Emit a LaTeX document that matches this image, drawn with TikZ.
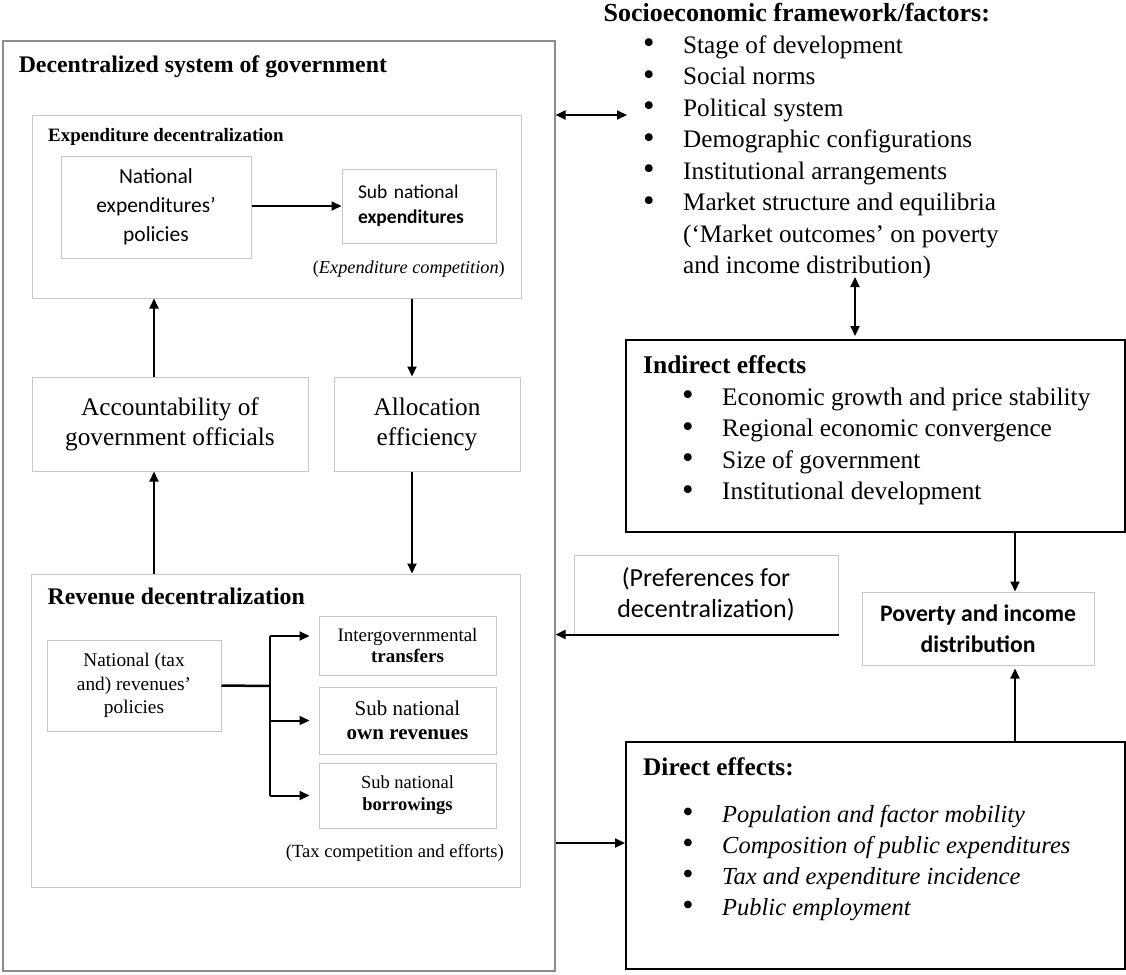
\documentclass[tikz,border=0pt]{standalone}
\usepackage{graphicx}
\usepackage{fontspec}
\setmainfont{Liberation Serif}
\setsansfont{Carlito}
\usetikzlibrary{arrows.meta,positioning}

\newcommand{\fs}[2]{\fontsize{#1}{#2}\selectfont}
\newcommand{\bul}{\makebox[40pt][l]{\raisebox{-0.5pt}{\scalebox{1.3}{\textbullet}}}}

\begin{document}
\begin{tikzpicture}[x=1pt,y=-1pt,
                    frame/.style={draw=black!45,line width=1.1pt},
                    grbox/.style={draw=black!22,line width=1pt,align=center},
                    effbox/.style={draw=black,line width=2pt},
                    txt/.style={inner sep=0pt,anchor=base west},
                    arr/.style={-{Triangle[length=10pt,width=9pt]},line width=2pt},
                    darr/.style={{Triangle[length=10pt,width=9pt]}-{Triangle[length=10pt,width=9pt]},line width=2pt}]
  \useasboundingbox (0,0) rectangle (1126,974);

  % decentralized system of government
  \node[frame,minimum width=552pt,minimum height=930pt] (govt) at (279,506) {};
  \node[txt,font=\fs{23.8}{28}\bfseries] (govtitle) at (18.6,72) {Decentralized system of government};

  \node[grbox,minimum width=489pt,minimum height=183pt] (expdec) at (276.5,206.5) {};
  \node[txt,font=\fs{18.9}{22}\bfseries] (exptitle) at (48,141) {Expenditure decentralization};
  \node[grbox,minimum width=190pt,minimum height=102pt,font=\sffamily\fs{21.5}{29}] (natexp) at (156,207) {National\\expenditures'\\policies};
  \node[grbox,minimum width=154pt,minimum height=74pt,text width=122pt,align=left,font=\sffamily\fs{19.5}{25}] (subexp) at (419,206) {Sub national\\\textbf{expenditures}};
  \node[txt,anchor=base east,font=\fs{18.3}{22}] (expcomp) at (505,273) {(\textit{Expenditure competition})};

  \node[grbox,minimum width=276pt,minimum height=94pt,font=\fs{25.3}{30}] (acc) at (170,424) {Accountability of\\government officials};
  \node[grbox,minimum width=186pt,minimum height=94pt,font=\fs{25.3}{30}] (alloc) at (427,424) {Allocation\\efficiency};

  \node[grbox,minimum width=489pt,minimum height=313pt] (revdec) at (275.5,730.5) {};
  \node[txt,font=\fs{23.8}{28}\bfseries] (revtitle) at (47.5,604) {Revenue decentralization};
  \node[grbox,minimum width=174pt,minimum height=91pt,font=\fs{19.3}{23.5}] (natrev) at (134,685.5) {National (tax\\and) revenues'\\policies};
  \node[grbox,minimum width=177pt,minimum height=59pt,font=\fs{19}{21}] (intergov) at (407.5,645.5) {Intergovernmental\\\textbf{transfers}};
  \node[grbox,minimum width=177pt,minimum height=67pt,font=\fs{21}{24}] (ownrev) at (407.5,720.5) {Sub national\\\textbf{own revenues}};
  \node[grbox,minimum width=177pt,minimum height=65pt,font=\fs{18.5}{22}] (borrow) at (407.5,795.5) {Sub national\\\textbf{borrowings}};
  \node[txt,anchor=base east,font=\fs{18.6}{22}] (taxcomp) at (504,857) {(Tax competition and efforts)};

  % socioeconomic factors
  \node[txt,font=\fs{26}{30}\bfseries] (soctitle) at (603.5,22) {Socioeconomic framework/factors:};
  \node[txt,font=\fs{25.2}{30}] (soc1) at (643,53) {\bul Stage of development};
  \node[txt,font=\fs{25.2}{30}] (soc2) at (643,84.5) {\bul Social norms};
  \node[txt,font=\fs{25.2}{30}] (soc3) at (643,116) {\bul Political system};
  \node[txt,font=\fs{25.2}{30}] (soc4) at (643,147.5) {\bul Demographic configurations};
  \node[txt,font=\fs{25.2}{30}] (soc5) at (643,179) {\bul Institutional arrangements};
  \node[txt,font=\fs{25.2}{30}] (soc6) at (643,210.5) {\bul Market structure and equilibria};
  \node[txt,font=\fs{25.2}{30}] (soc7) at (683,242) {(`Market outcomes' on poverty};
  \node[txt,font=\fs{25.2}{30}] (soc8) at (683,273.5) {and income distribution)};

  % effects
  \node[effbox,minimum width=499pt,minimum height=192pt] (indir) at (875.5,436) {};
  \node[txt,font=\fs{25.5}{30}\bfseries] (indtitle) at (643,373) {Indirect effects};
  \node[txt,font=\fs{25.3}{30}] (ind1) at (682,405) {\bul Economic growth and price stability};
  \node[txt,font=\fs{25.3}{30}] (ind2) at (682,436.5) {\bul Regional economic convergence};
  \node[txt,font=\fs{25.3}{30}] (ind3) at (682,468) {\bul Size of government};
  \node[txt,font=\fs{25.3}{30}] (ind4) at (682,499.5) {\bul Institutional development};

  \node[grbox,minimum width=232pt,minimum height=73pt,font=\sffamily\bfseries\fs{23.7}{31}] (pov) at (978,628.5) {Poverty and income\\distribution};
  \node[grbox,minimum width=264pt,minimum height=79pt,font=\sffamily\fs{26}{31}] (pref) at (706,594.5) {(Preferences for\\decentralization)};

  \node[effbox,minimum width=499pt,minimum height=227pt] (direct) at (875.5,855.5) {};
  \node[txt,font=\fs{25.3}{30}\bfseries] (dirtitle) at (643,775) {Direct effects:};
  \node[txt,font=\fs{24.5}{30}\itshape] (dir1) at (682,822) {\bul Population and factor mobility};
  \node[txt,font=\fs{24.5}{30}\itshape] (dir2) at (682,853) {\bul Composition of public expenditures};
  \node[txt,font=\fs{24.5}{30}\itshape] (dir3) at (682,884) {\bul Tax and expenditure incidence};
  \node[txt,font=\fs{24.5}{30}\itshape] (dir4) at (682,915) {\bul Public employment};

  % connectors
  \draw[arr] (natexp.east |- subexp.west) -- (subexp.west);

  \coordinate (accup) at ([xshift=-16pt]acc.north);
  \draw[arr] (accup) -- (accup |- expdec.south);
  \coordinate (allocin) at ([xshift=-15pt]alloc.north);
  \draw[arr] (allocin |- expdec.south) -- (allocin);
  \coordinate (revup) at ([xshift=-121.5pt]revdec.north);
  \draw[arr] (revup) -- (revup |- acc.south);
  \coordinate (allocout) at ([xshift=-15pt]alloc.south);
  \draw[arr] (allocout) -- (allocout |- revdec.north);

  \coordinate (br) at (270,686);
  \coordinate (tin) at ([yshift=9.5pt]intergov.west);
  \draw[line width=2.5pt] (natrev.east) -- (br);
  \draw[line width=2.5pt] (tin -| br) -- (borrow.west -| br);
  \draw[arr,shorten >=9pt] (tin -| br) -- (tin);
  \draw[arr,shorten >=9pt] (ownrev.west -| br) -- (ownrev.west);
  \draw[arr,shorten >=9pt] (borrow.west -| br) -- (borrow.west);

  \coordinate (socpt) at (627,115);
  \draw[darr] (socpt -| govt.east) -- (socpt);
  \coordinate (mktpt) at (855,277);
  \draw[darr,shorten >=3pt] (mktpt) -- (mktpt |- indir.north);

  \coordinate (povin) at ([xshift=37pt]pov.north);
  \draw[arr] (povin |- indir.south) -- (povin);
  \coordinate (povout) at ([xshift=37pt]pov.south);
  \draw[arr,shorten >=3pt] (povout |- direct.north) -- (povout);

  \draw[arr] (pref.south east) -- (pref.south east -| govt.east);

  \coordinate (din) at ([yshift=12.5pt]direct.west);
  \draw[arr] (din -| govt.east) -- (din);
\end{tikzpicture}
\end{document}
